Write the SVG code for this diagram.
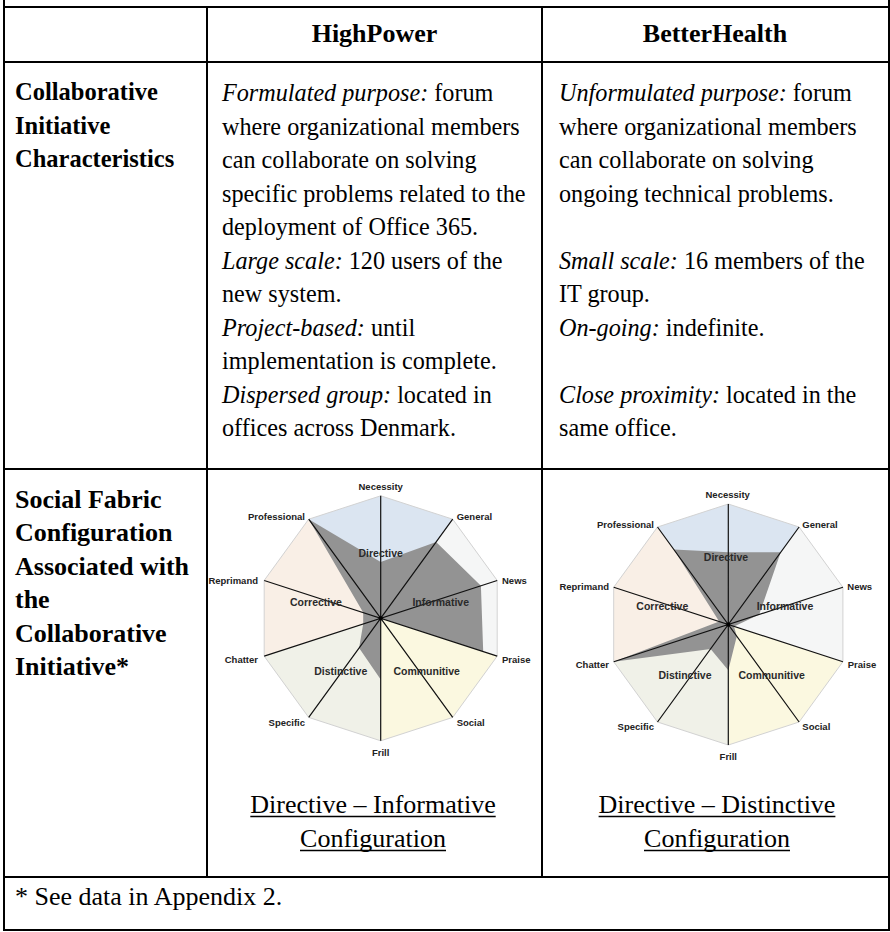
<svg xmlns="http://www.w3.org/2000/svg" width="890" height="932" viewBox="0 0 890 932">
<style>
.grid{stroke:#000;stroke-width:2;fill:none}
.hd{font-family:"Liberation Serif","Times New Roman",serif;font-weight:bold;font-size:26px;fill:#000}
.lb{font-family:"Liberation Serif","Times New Roman",serif;font-weight:bold;font-size:24.5px;fill:#000}
.lb2{font-family:"Liberation Serif","Times New Roman",serif;font-weight:bold;font-size:26px;fill:#000}
.tx{font-family:"Liberation Serif","Times New Roman",serif;font-size:24.2px;fill:#000}
.cap{font-family:"Liberation Serif","Times New Roman",serif;font-size:26px;fill:#000;text-anchor:middle}
.ax{font-family:"Liberation Sans",Arial,sans-serif;font-weight:bold;font-size:9.5px;fill:#222}
.sl{font-family:"Liberation Sans",Arial,sans-serif;font-weight:bold;font-size:10.5px;fill:#2a2a2a;text-anchor:middle}
.s-dir{fill:#dbe5f1}.s-inf{fill:#f5f6f6}.s-com{fill:#fbf8e0}.s-dis{fill:#f0f1e8}.s-cor{fill:#f9efe6}
.outline{fill:none;stroke:#d2d2d2;stroke-width:1}
.data{fill:#939393}
.axes{stroke:#111;stroke-width:1.2;fill:none}
.ul{stroke:#000;stroke-width:1.3}
</style>

<g id="table-grid">
<line class="grid" x1="4" y1="0" x2="4" y2="931"/>
<line class="grid" x1="889" y1="0" x2="889" y2="931"/>
<line class="grid" x1="4" y1="7" x2="889" y2="7"/>
<line class="grid" x1="4" y1="62" x2="889" y2="62"/>
<line class="grid" x1="4" y1="469" x2="889" y2="469"/>
<line class="grid" x1="4" y1="877" x2="889" y2="877"/>
<line class="grid" x1="4" y1="930" x2="889" y2="930"/>
<line class="grid" x1="207" y1="7" x2="207" y2="877"/>
<line class="grid" x1="542" y1="7" x2="542" y2="877"/>
</g>

<g id="header-highpower"><text class="hd" x="374.5" y="42" text-anchor="middle">HighPower</text></g>
<g id="header-betterhealth"><text class="hd" x="715" y="42" text-anchor="middle">BetterHealth</text></g>

<g id="label-characteristics">
<text class="lb" x="15" y="100">Collaborative</text>
<text class="lb" x="15" y="133.5">Initiative</text>
<text class="lb" x="15" y="167">Characteristics</text>
</g>

<g id="cell-highpower-characteristics">
<text class="tx" x="222" y="101"><tspan font-style="italic">Formulated purpose:</tspan> forum</text>
<text class="tx" x="222" y="134.5">where organizational members</text>
<text class="tx" x="222" y="168">can collaborate on solving</text>
<text class="tx" x="222" y="201.5">specific problems related to the</text>
<text class="tx" x="222" y="235">deployment of Office 365.</text>
<text class="tx" x="222" y="268.5"><tspan font-style="italic">Large scale:</tspan> 120 users of the</text>
<text class="tx" x="222" y="302">new system.</text>
<text class="tx" x="222" y="335.5"><tspan font-style="italic">Project-based:</tspan> until</text>
<text class="tx" x="222" y="369">implementation is complete.</text>
<text class="tx" x="222" y="402.5"><tspan font-style="italic">Dispersed group:</tspan> located in</text>
<text class="tx" x="222" y="436">offices across Denmark.</text>
</g>

<g id="cell-betterhealth-characteristics">
<text class="tx" x="559" y="101"><tspan font-style="italic">Unformulated purpose:</tspan> forum</text>
<text class="tx" x="559" y="134.5">where organizational members</text>
<text class="tx" x="559" y="168">can collaborate on solving</text>
<text class="tx" x="559" y="201.5">ongoing technical problems.</text>
<text class="tx" x="559" y="268.5"><tspan font-style="italic">Small scale:</tspan> 16 members of the</text>
<text class="tx" x="559" y="302">IT group.</text>
<text class="tx" x="559" y="335.5"><tspan font-style="italic">On-going:</tspan> indefinite.</text>
<text class="tx" x="559" y="402.5"><tspan font-style="italic">Close proximity:</tspan> located in the</text>
<text class="tx" x="559" y="436">same office.</text>
</g>

<g id="label-social-fabric">
<text class="lb2" x="15" y="507.5">Social Fabric</text>
<text class="lb2" x="15" y="541">Configuration</text>
<text class="lb2" x="15" y="574.5">Associated with</text>
<text class="lb2" x="15" y="608">the</text>
<text class="lb2" x="15" y="641.5">Collaborative</text>
<text class="lb2" x="15" y="675">Initiative*</text>
</g>

<g id="chart-highpower">
<polygon class="s-dir" points="380.7,618.3 308.7,519.2 380.7,495.8 452.7,519.2"/>
<polygon class="s-inf" points="380.7,618.3 452.7,519.2 497.2,580.45 497.2,656.15"/>
<polygon class="s-com" points="380.7,618.3 497.2,656.15 452.7,717.4 380.7,740.8"/>
<polygon class="s-dis" points="380.7,618.3 380.7,740.8 308.7,717.4 264.2,656.15"/>
<polygon class="s-cor" points="380.7,618.3 264.2,656.15 264.2,580.45 308.7,519.2"/>
<polygon class="outline" points="380.7,495.8 452.7,519.2 497.2,580.45 497.2,656.15 452.7,717.4 380.7,740.8 308.7,717.4 264.2,656.15 264.2,580.45 308.7,519.2"/>
<polygon class="data" points="380.7,561.95 436.1,542.0 480.9,585.75 483.2,651.6 380.7,618.3 380.7,679.55 359.1,648.0 363.2,624.0 363.2,612.6 308.7,519.2"/>
<path class="axes" d="M380.7,495.8L380.7,740.8M452.7,519.2L308.7,717.4M497.2,580.45L264.2,656.15M497.2,656.15L264.2,580.45M452.7,717.4L308.7,519.2"/>
<circle cx="380.7" cy="618.3" r="2" fill="#000"/>
<text class="ax" x="380.7" y="490" text-anchor="middle">Necessity</text>
<text class="ax" x="456.7" y="519.5">General</text>
<text class="ax" x="502" y="583.5">News</text>
<text class="ax" x="502" y="662.5">Praise</text>
<text class="ax" x="456.7" y="726">Social</text>
<text class="ax" x="380.7" y="756" text-anchor="middle">Frill</text>
<text class="ax" x="305" y="726" text-anchor="end">Specific</text>
<text class="ax" x="258" y="662.5" text-anchor="end">Chatter</text>
<text class="ax" x="258" y="583.5" text-anchor="end">Reprimand</text>
<text class="ax" x="305" y="519.5" text-anchor="end">Professional</text>
<text class="sl" x="380.7" y="556.5">Directive</text>
<text class="sl" x="440.7" y="605.5">Informative</text>
<text class="sl" x="426.7" y="674.5">Communitive</text>
<text class="sl" x="340.7" y="674.5">Distinctive</text>
<text class="sl" x="316" y="605.5">Corrective</text>
</g>

<g id="chart-betterhealth">
<polygon class="s-dir" points="728.3,624.5 657.5,527 728.3,504 799.1,527"/>
<polygon class="s-inf" points="728.3,624.5 799.1,527 842.9,587.3 842.9,661.7"/>
<polygon class="s-com" points="728.3,624.5 842.9,661.7 799.1,722 728.3,745"/>
<polygon class="s-dis" points="728.3,624.5 728.3,745 657.5,722 613.7,661.7"/>
<polygon class="s-cor" points="728.3,624.5 613.7,661.7 613.7,587.3 657.5,527"/>
<polygon class="outline" points="728.3,504 799.1,527 842.9,587.3 842.9,661.7 799.1,722 728.3,745 657.5,722 613.7,661.7 613.7,587.3 657.5,527"/>
<polygon class="data" points="728.3,552.2 780.7,552.3 759.2,614.5 734.0,626.4 736.8,636.2 728.3,670.3 710.6,648.9 613.7,661.7 719.2,621.5 673.8,549.4"/>
<path class="axes" d="M728.3,504L728.3,745M799.1,527L657.5,722M842.9,587.3L613.7,661.7M842.9,661.7L613.7,587.3M799.1,722L657.5,527"/>
<circle cx="728.3" cy="624.5" r="2" fill="#000"/>
<text class="ax" x="727.7" y="497.5" text-anchor="middle">Necessity</text>
<text class="ax" x="802.3" y="527.5">General</text>
<text class="ax" x="847.3" y="590">News</text>
<text class="ax" x="847.7" y="667.5">Praise</text>
<text class="ax" x="802.3" y="730">Social</text>
<text class="ax" x="728.3" y="760" text-anchor="middle">Frill</text>
<text class="ax" x="654" y="730" text-anchor="end">Specific</text>
<text class="ax" x="609" y="667.5" text-anchor="end">Chatter</text>
<text class="ax" x="609" y="590" text-anchor="end">Reprimand</text>
<text class="ax" x="654" y="527.5" text-anchor="end">Professional</text>
<text class="sl" x="726" y="560.5">Directive</text>
<text class="sl" x="785" y="609.5">Informative</text>
<text class="sl" x="662.3" y="609.5">Corrective</text>
<text class="sl" x="685" y="679">Distinctive</text>
<text class="sl" x="771.7" y="679">Communitive</text>
</g>

<g id="caption-highpower">
<text class="cap" x="373" y="813">Directive – Informative</text>
<text class="cap" x="373" y="847">Configuration</text>
<line class="ul" x1="250.3" y1="816.5" x2="495.7" y2="816.5"/>
<line class="ul" x1="300" y1="850.5" x2="446" y2="850.5"/>
</g>

<g id="caption-betterhealth">
<text class="cap" x="717" y="813">Directive – Distinctive</text>
<text class="cap" x="717" y="847">Configuration</text>
<line class="ul" x1="598.6" y1="816.5" x2="835.4" y2="816.5"/>
<line class="ul" x1="644" y1="850.5" x2="790" y2="850.5"/>
</g>

<g id="footnote"><text class="tx" x="15" y="905" style="font-size:26px">* See data in Appendix 2.</text></g>
</svg>
